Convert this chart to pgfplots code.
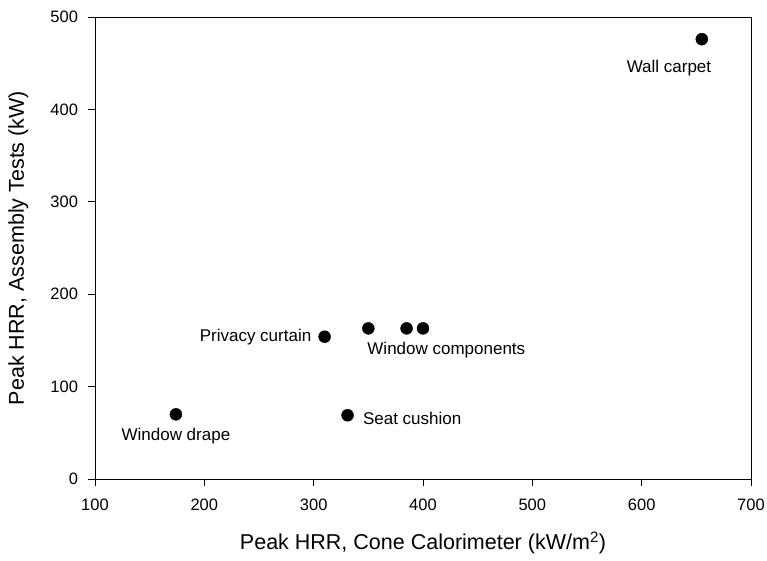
\documentclass[border=0pt]{standalone}
\usepackage{fontspec}
\setmainfont{Liberation Sans}
\usepackage{pgfplots}
\pgfplotsset{compat=1.18}

\begin{document}
\begin{tikzpicture}
  % page size as in the reference, axis box placed at its origin
  \useasboundingbox (-95pt,-81pt) rectangle (672pt,479pt);
  \begin{axis}[
      at={(0,0)}, anchor=south west,
      scale only axis,
      width=656pt, height=462pt,
      xmin=100, xmax=700,
      ymin=0, ymax=500,
      xtick={100,200,...,700},
      ytick={0,100,...,500},
      tick align=outside,
      xtick pos=left, ytick pos=left,
      major tick length=6.5pt,
      axis line style={line width=0.9pt},
      every tick/.style={line width=0.9pt, black},
      /pgf/number format/assume math mode=true,
      tick label style={font=\fontsize{16.5}{19}\selectfont},
      label style={font=\fontsize{21.5}{25}\selectfont},
      xticklabel style={yshift=-10pt},
      yticklabel style={xshift=-7pt},
      xlabel={Peak HRR, Cone Calorimeter (kW/m\textsuperscript{2})},
      ylabel={Peak HRR, Assembly Tests (kW)},
      xlabel style={at={(axis description cs:0.5,-0.138)}, anchor=center},
      ylabel style={at={(axis description cs:-0.117,0.5)}, anchor=center},
      clip=false,
    ]
    \addplot[only marks, mark=*, mark size=6pt, black] coordinates {
      (174,70) (331,69) (310,154) (350,163) (385,163) (400,163) (655,476)
    };
    \begin{scope}[font=\fontsize{17}{20}\selectfont]
      \node at (axis cs:174,46) {Window drape};
      \node at (axis cs:625,445) {Wall carpet};
      \node[anchor=east, inner sep=0pt] at (axis cs:298,154) {Privacy curtain};
      \node[anchor=west, inner sep=0pt] at (axis cs:349,139) {Window components};
      \node[anchor=west, inner sep=0pt] at (axis cs:345,66) {Seat cushion};
    \end{scope}
  \end{axis}
\end{tikzpicture}
\end{document}
